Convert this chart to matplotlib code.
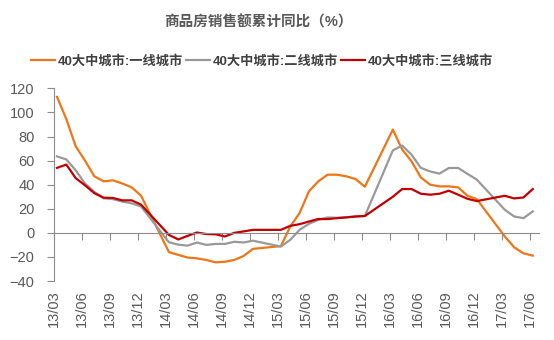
import matplotlib
matplotlib.use("Agg")
import matplotlib.pyplot as plt

plt.rcParams['font.family'] = ['Liberation Sans', 'Noto Sans CJK SC', 'DejaVu Sans']

# 月份(1、2月无数据)
months = ["13/03", "13/04", "13/05", "13/06", "13/07", "13/08", "13/09", "13/10", "13/11", "13/12",
          "14/03", "14/04", "14/05", "14/06", "14/07", "14/08", "14/09", "14/10", "14/11", "14/12",
          "15/03", "15/04", "15/05", "15/06", "15/07", "15/08", "15/09", "15/10", "15/11", "15/12",
          "16/03", "16/04", "16/05", "16/06", "16/07", "16/08", "16/09", "16/10", "16/11", "16/12",
          "17/03", "17/04", "17/05", "17/06"]

tier1 = [113, 94.5, 72, 60, 47, 42.8, 43.6, 41, 37.8, 31,
         -16, -18.3, -20.5, -21.2, -22.5, -24.5, -24, -22.5, -19.2, -13.3,
         -11, 5.3, 16.4, 34.4, 42.8, 48.3, 48.3, 47, 44.7, 38.3,
         85.8, 69.2, 59.4, 46, 40, 38.6, 38.6, 37.8, 30.8, 28,
         -3, -12, -17, -18.9]
tier2 = [63.5, 61, 52, 41, 34, 28.7, 28, 26, 24.5, 22,
         -7.8, -9.8, -10.6, -8, -10, -9.2, -9.2, -7.4, -8, -6.5,
         -11.4, -5.8, 2.5, 7.5, 10.8, 12.8, 12.5, 13, 13.6, 14,
         68.5, 72.5, 65, 54, 51, 49.2, 53.9, 53.9, 49, 44.2,
         19.2, 13.6, 12.2, 17.8]
tier3 = [54, 56.7, 45.5, 39.5, 33, 29.2, 29, 27, 27, 23.5,
         -1.7, -5.5, -2.5, 0.3, -1, -1.2, -3, 0, 1.2, 2.5,
         2.5, 5.8, 7.2, 9.4, 11.5, 11.4, 12.2, 12.8, 13.6, 14,
         30, 36.4, 36.4, 32.5, 31.7, 32.5, 35, 31.7, 28.3, 26.4,
         30.8, 28.6, 29.4, 36.4]

tick_labels = ["13/03", "13/06", "13/09", "13/12", "14/03", "14/06", "14/09", "14/12",
               "15/03", "15/06", "15/09", "15/12", "16/03", "16/06", "16/09", "16/12",
               "17/03", "17/06"]

names = ["40大中城市:一线城市", "40大中城市:二线城市", "40大中城市:三线城市"]
colors = ["#EE7518", "#999999", "#C00000"]


def month_idx(s):
    yy, mm = s.split("/")
    return (int(yy) - 13) * 12 + int(mm) - 3


x = [month_idx(m) for m in months]
tick_pos = [month_idx(t) - 0.3 for t in tick_labels]

fig = plt.figure(figsize=(5.54, 3.4), dpi=100)
ax = fig.add_axes([0.0975, 0.1735, 0.876, 0.5665])

for ys, name, c in zip([tier1, tier2, tier3], names, colors):
    ax.plot(x, ys, color=c, lw=1.6, label=name)

ax.set_ylim(-40, 120)
ax.set_yticks(range(-40, 121, 20))
ax.set_xlim(-0.32, 51.7)

for side in ['top', 'right']:
    ax.spines[side].set_visible(False)
ax.spines['left'].set_color('#8c8c8c')
ax.spines['bottom'].set_color('#8c8c8c')
ax.spines['bottom'].set_position(('data', 0))

ax.set_xticks(tick_pos)
ax.tick_params(axis='x', length=5, color='#8c8c8c', labelbottom=False)
ax.tick_params(axis='y', length=5, color='#8c8c8c', labelcolor='#595959',
               labelsize=10.5, pad=9)

sec = ax.secondary_xaxis('bottom')
sec.set_xticks(tick_pos, tick_labels, rotation=90)
sec.tick_params(length=0, pad=7, labelsize=10.5, labelcolor='#595959')
sec.spines['bottom'].set_visible(False)

fig.text(0.466, 0.935, "商品房销售额累计同比（%）", ha='center', va='center',
         fontsize=10.5, fontweight='bold', color='#595959')

fig.legend(loc='center', bbox_to_anchor=(0.473, 0.82), ncol=3, frameon=False,
           prop={'size': 9.5, 'weight': 'bold'}, handlelength=1.8,
           handletextpad=0.25, columnspacing=0.2, labelcolor='#404040')

fig.savefig("out.png", dpi=100)
